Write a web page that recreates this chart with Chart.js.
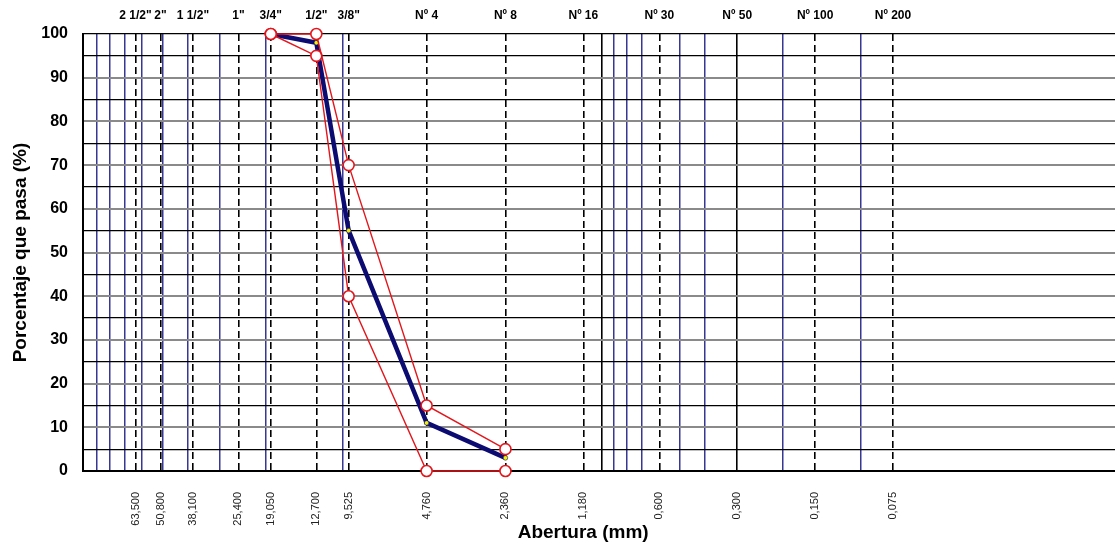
<!DOCTYPE html>
<html><head><meta charset="utf-8">
<script src="https://cdn.jsdelivr.net/npm/chart.js@4/dist/chart.umd.min.js"></script>
<style>html,body{margin:0;padding:0;background:#fff;overflow:hidden}canvas{display:block}</style>
</head><body>
<canvas id="c" width="1115" height="546"></canvas>
<script>
// Data
const aberturas = [19.05, 12.7, 9.525, 4.76, 2.36];
const promedio = [100, 98, 55, 11, 3];
const limiteSuperior = [100, 100, 70, 15, 5];
const limiteInferior = [100, 95, 40, 0, 0];

// Axis ticks
const tamicesMm = [63.5, 50.8, 38.1, 25.4, 19.05, 12.7, 9.525, 4.76, 2.36, 1.18, 0.6, 0.3, 0.15, 0.075];
const tamicesNombre = ['2 1/2"', '2"', '1 1/2"', '1"', '3/4"', '1/2"', '3/8"', 'Nº 4', 'Nº 8', 'Nº 16', 'Nº 30', 'Nº 50', 'Nº 100', 'Nº 200'];
const tamicesEtiqueta = ['63,500', '50,800', '38,100', '25,400', '19,050', '12,700', '9,525', '4,760', '2,360', '1,180', '0,600', '0,300', '0,150', '0,075'];
const lineasMenores = [90, 80, 70, 60, 50, 40, 30, 20, 10, 0.9, 0.8, 0.7, 0.5, 0.4, 0.2, 0.1];
const lineasSolidas = [1, 0.3];
const yTicks = [0, 5, 10, 15, 20, 25, 30, 35, 40, 45, 50, 55, 60, 65, 70, 75, 80, 85, 90, 95, 100];
const xMin = 0.0104, xMax = 101.3;

Chart.defaults.font.family = '"Liberation Sans", Arial, sans-serif';
Chart.defaults.color = '#000';

const pts = (ys) => aberturas.map((x, i) => ({x: x, y: ys[i]}));
const gridValues = Array.from(new Set([...tamicesMm, ...lineasMenores, ...lineasSolidas]));

const RED = '#e3161c';
const NAVY = '#0b0b72';
const BLUE = 'rgba(20,20,130,0.85)';
const noPadX = (s) => { s.paddingLeft = 0; s.paddingRight = 0; };

new Chart(document.getElementById('c'), {
  type: 'line',
  data: {
    datasets: [
      {data: pts(limiteSuperior), borderColor: RED, borderWidth: 1.4, pointRadius: 5.5, pointBackgroundColor: '#fff', pointBorderColor: RED, pointBorderWidth: 1.6, clip: false, order: 0},
      {data: pts(limiteInferior), borderColor: RED, borderWidth: 1.4, pointRadius: 5.5, pointBackgroundColor: '#fff', pointBorderColor: RED, pointBorderWidth: 1.6, clip: false, order: 0},
      {data: pts(promedio), borderColor: NAVY, borderWidth: 4.5, pointRadius: 2.3, pointBackgroundColor: '#f2f200', pointBorderColor: NAVY, pointBorderWidth: 0.6, clip: false, order: 1}
    ]
  },
  options: {
    responsive: false,
    animation: false,
    devicePixelRatio: 1,
    layout: {padding: 0, autoPadding: false},
    plugins: {legend: {display: false}, tooltip: {enabled: false}},
    scales: {
      x: {
        type: 'logarithmic', position: 'bottom', min: xMin, max: xMax, reverse: true,
        afterBuildTicks: (s) => { s.ticks = gridValues.map(v => ({value: v})); },
        afterFit: (s) => { s.height = 75; noPadX(s); },
        ticks: {
          autoSkip: false, minRotation: 90, maxRotation: 90, padding: 21,
          color: '#222', font: {size: 11},
          callback: (v) => { const i = tamicesMm.indexOf(v); return i >= 0 ? tamicesEtiqueta[i] : ''; }
        },
        grid: {
          drawTicks: false,
          color: (c) => { const v = c.tick && c.tick.value; return (lineasSolidas.includes(v) || tamicesMm.includes(v)) ? '#000' : BLUE; },
          lineWidth: (c) => { const v = c.tick && c.tick.value; return (lineasSolidas.includes(v) || tamicesMm.includes(v)) ? 1.6 : 1.5; }
        },
        border: {
          display: true, color: '#000', width: 2,
          dash: (c) => { const v = c.tick && c.tick.value; return (c.tick && !lineasSolidas.includes(v) && tamicesMm.includes(v)) ? [7, 4] : []; }
        },
        title: {display: true, text: 'Abertura (mm)\u00a0\u00a0\u00a0\u00a0\u00a0\u00a0', font: {size: 19, weight: 'bold'}, padding: {top: 0, bottom: 2}}
      },
      x2: {
        type: 'logarithmic', position: 'top', min: xMin, max: xMax, reverse: true,
        afterBuildTicks: (s) => { s.ticks = tamicesMm.map(v => ({value: v})); },
        afterFit: (s) => { s.height = 34; noPadX(s); },
        ticks: {
          autoSkip: false, minRotation: 0, maxRotation: 0, padding: 11,
          font: {size: 12, weight: 'bold'},
          callback: (v) => { const i = tamicesMm.indexOf(v); return i >= 0 ? tamicesNombre[i] : ''; }
        },
        grid: {display: false, drawTicks: false},
        border: {display: false}
      },
      y: {
        min: 0, max: 100,
        afterBuildTicks: (s) => { s.ticks = yTicks.map(v => ({value: v})); },
        afterFit: (s) => { s.width = 83; },
        ticks: {autoSkip: false, padding: 15, font: {size: 16, weight: 'bold'},
          callback: (v) => (v % 10 === 0 ? v : '')},
        grid: {
          drawTicks: false,
          color: (c) => { const v = c.tick && c.tick.value; return (v % 10 === 0 && v !== 0 && v !== 100) ? '#8a8a8a' : '#000'; },
          lineWidth: (c) => { const v = c.tick && c.tick.value; return (v % 10 === 0 && v !== 0 && v !== 100) ? 2 : 1.3; }
        },
        border: {display: true, color: '#000', width: 2},
        title: {display: true, text: 'Porcentaje que pasa (%)', font: {size: 19, weight: 'bold'}, padding: {top: 9, bottom: 0}}
      }
    }
  }
});
</script>
</body></html>
